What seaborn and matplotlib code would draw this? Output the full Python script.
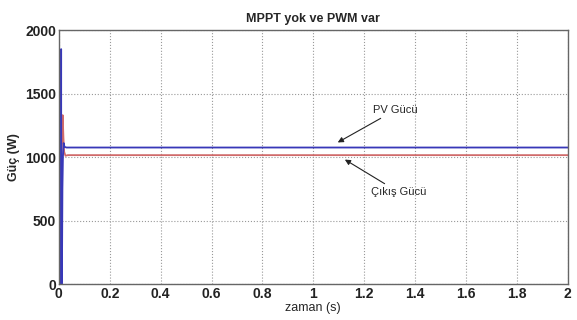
import matplotlib
matplotlib.use("Agg")
import matplotlib.pyplot as plt
import seaborn as sns
import pandas as pd

# PV power (blue) and output power (red), time in seconds
pv_t = [0.0, 0.008, 0.009, 0.0095, 0.012, 0.014, 0.016, 0.019, 0.022, 0.03, 2.0]
pv_p = [0, 0, 1850, 0, 0, 750, 1000, 1110, 1080, 1075, 1075]
out_t = [0.0, 0.004, 0.010, 0.013, 0.015, 0.018, 0.021, 0.026, 0.035, 2.0]
out_p = [250, 500, 900, 1250, 1330, 1150, 1040, 1010, 1015, 1015]

x_ticks = [0, 0.2, 0.4, 0.6, 0.8, 1, 1.2, 1.4, 1.6, 1.8, 2]
x_labels = ["0", "0.2", "0.4", "0.6", "0.8", "1", "1.2", "1.4", "1.6", "1.8", "2"]
y_ticks = [0, 500, 1000, 1500, 2000]

sns.set_style("white")
plt.rcParams['font.family'] = ['Liberation Sans', 'DejaVu Sans']

pv = pd.DataFrame({"t": pv_t, "p": pv_p})
out = pd.DataFrame({"t": out_t, "p": out_p})

fig = plt.figure(figsize=(5.77, 3.2), dpi=100)
ax = fig.add_axes([0.102, 0.1125, 0.882, 0.7935])

sns.lineplot(data=out, x="t", y="p", ax=ax, color="#d06a6a", lw=1.3, estimator=None, sort=False)
sns.lineplot(data=pv, x="t", y="p", ax=ax, color="#3838b8", lw=1.3, estimator=None, sort=False)

ax.set_xlim(0, 2)
ax.set_ylim(0, 2000)
ax.set_xticks(x_ticks)
ax.set_xticklabels(x_labels)
ax.set_yticks(y_ticks)
ax.tick_params(direction="in", length=3, labelsize=10, colors="#222222", pad=2)
for lab in ax.get_xticklabels() + ax.get_yticklabels():
    lab.set_fontweight("bold")
ax.grid(True, linestyle=":", color="#999999", lw=0.8)
for s in ax.spines.values():
    s.set_color("#666666")
    s.set_linewidth(1.0)

ax.set_xlabel("zaman (s)", fontsize=9, labelpad=1)
ax.set_ylabel("Güç (W)", fontsize=9, fontweight="bold", labelpad=4)
ax.set_title("MPPT yok ve PWM var", fontsize=9, fontweight="bold", pad=6)

ax.annotate("PV Gücü", xy=(1.096, 1115), xytext=(1.235, 1370), fontsize=8,
            ha="left", va="center",
            arrowprops=dict(arrowstyle="-|>", color="#222222", lw=0.8,
                            mutation_scale=8, shrinkA=0, shrinkB=0))
ax.annotate("Çıkış Gücü", xy=(1.124, 980), xytext=(1.225, 725), fontsize=8,
            ha="left", va="center",
            arrowprops=dict(arrowstyle="-|>", color="#222222", lw=0.8,
                            mutation_scale=8, shrinkA=0, shrinkB=0))

fig.savefig("out.png", dpi=100)
